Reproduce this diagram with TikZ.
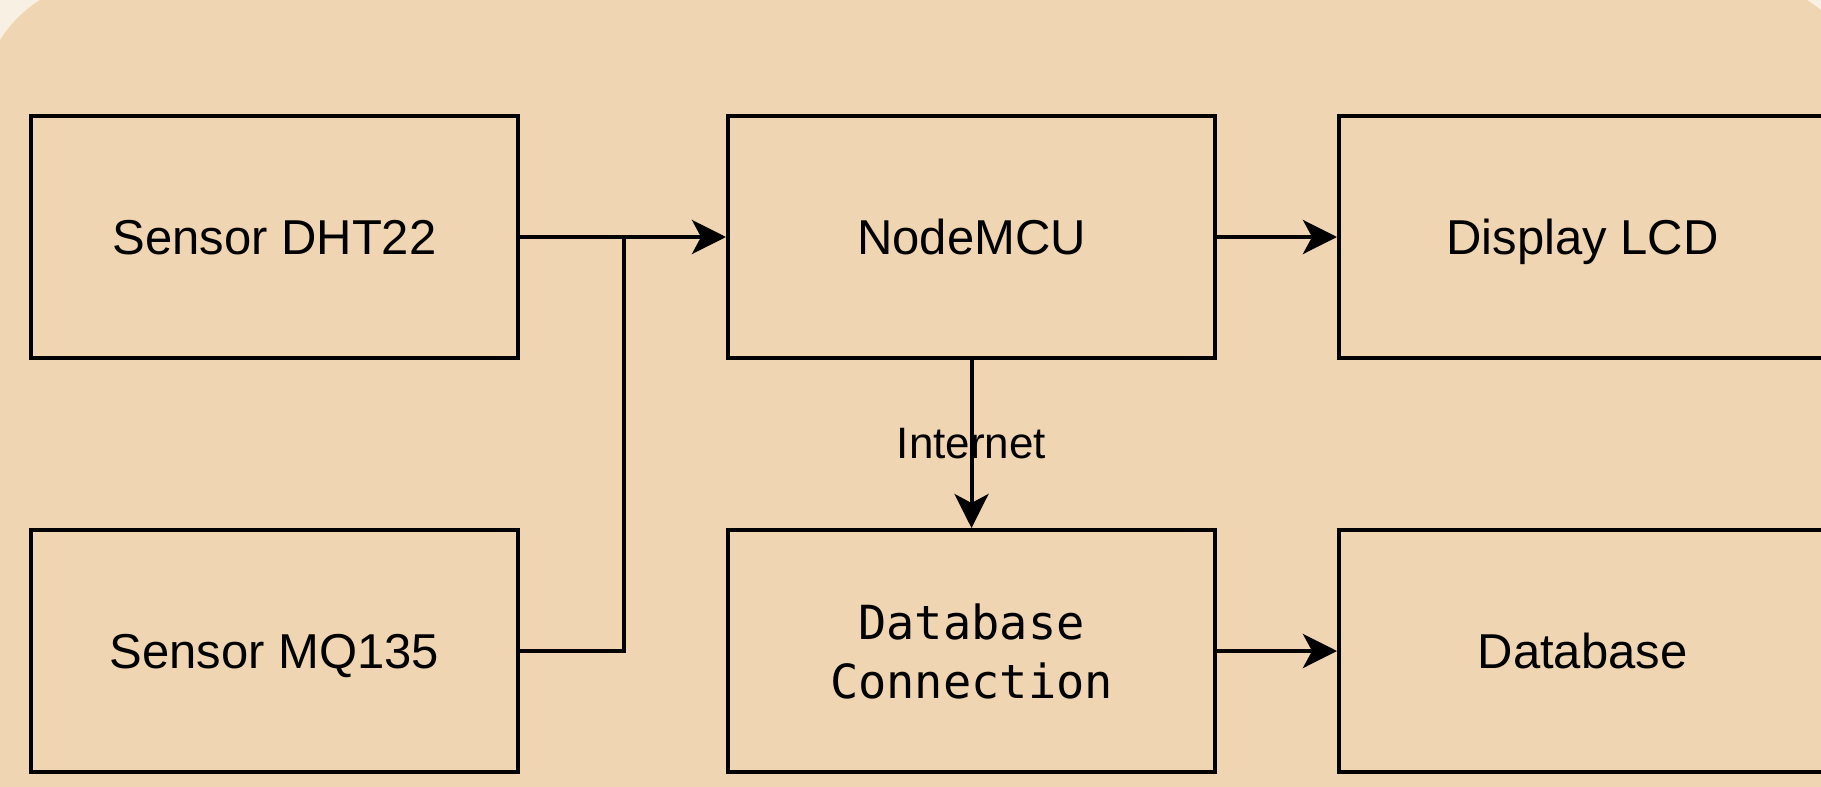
\documentclass[tikz,border=0pt]{standalone}
\usepackage{fontspec}
\setmainfont{Liberation Sans}
\newfontfamily\monofont{DejaVu Sans Mono}
\usetikzlibrary{arrows.meta}
\definecolor{pagebg}{HTML}{F8F0E3}
\definecolor{panel}{HTML}{EFD5B1}
\begin{document}
\begin{tikzpicture}[x=0.5pt,y=-0.5pt,
  block/.style={draw=black, line width=2pt, minimum width=243.5pt, minimum height=121pt,
    inner sep=0pt, align=center, font=\fontsize{24.5}{29}\selectfont},
  oneline/.style={text height=17.5pt, text depth=0pt},
  conn/.style={line width=2pt, -{Stealth[length=17pt,width=17pt,inset=4.5pt]}},
  link/.style={line width=2pt},
  lbl/.style={inner sep=0pt, font=\fontsize{22}{26}\selectfont}]
\useasboundingbox (0,0) rectangle (1821,787);
\clip (0,0) rectangle (1821,787);
\fill[pagebg] (0,0) rectangle (1821,787);
\fill[panel, rounded corners=64.5pt] (-20,-20) rectangle (1867,950);

\node[block, oneline] (dht) at (274.5,237) {Sensor DHT22};
\node[block, oneline] (mq)  at (274.5,651) {Sensor MQ135};
\node[block, oneline] (mcu) at (971.5,237) {NodeMCU};
\node[block, font=\monofont\fontsize{23.5}{29.5}\selectfont] (dbc) at (971.5,651) {Database\\Connection};
\node[block, oneline] (lcd) at (1582.5,237) {Display LCD};
\node[block, oneline] (db)  at (1582.5,651) {Database};

\coordinate (j) at (623.7,237);
\draw[conn] (dht.east) -- (mcu.west);
\draw[link] (mq.east) -| (j);
\draw[conn] (mcu.east) -- (lcd.west);
\draw[conn] (mcu.south) -- node[lbl] {Internet} (dbc.north);
\draw[conn] (dbc.east) -- (db.west);
\end{tikzpicture}
\end{document}
